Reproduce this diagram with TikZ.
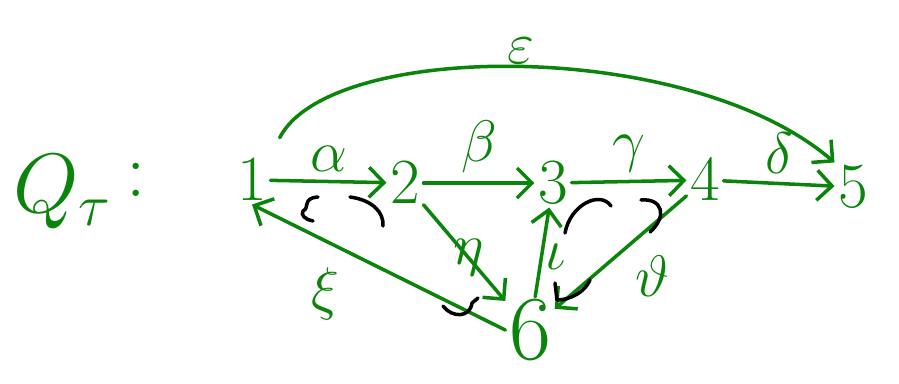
\documentclass[tikz,border=0pt]{standalone}
\usepackage{fix-cm}
\usepackage{xcolor}
\usepackage{tikz}
\usetikzlibrary{arrows.meta}
\definecolor{ink}{HTML}{0A840A}

\begin{document}
\begin{tikzpicture}[x=0.03cm, y=-0.03cm,
  vertex/.style={text=ink, font=\fontsize{55}{60}\selectfont, inner sep=3pt},
  arrowlabel/.style={text=ink, font=\fontsize{50}{56}\selectfont, inner sep=2pt},
  arrowline/.style={draw=ink, line width=3pt, line cap=round, -{Straight Barb[length=4.5mm,width=9mm,line width=3pt]}},
  relation/.style={draw=black, line width=3pt, line cap=round, line join=round},
]
\useasboundingbox (0,0) rectangle (899,383);
\node[text=ink, font=\fontsize{72}{78}\selectfont] (quiver) at (62,192) {$Q_\tau$};
\node[text=ink, font=\fontsize{66}{72}\selectfont] (colon) at (136,180) {$:$};

\node[vertex] (v1) at (252,180) {$1$};
\node[vertex] (v2) at (405,183) {$2$};
\node[vertex] (v3) at (553,183) {$3$};
\node[vertex] (v4) at (705,180) {$4$};
\node[vertex] (v5) at (853,187) {$5$};
\node[vertex, font=\fontsize{78}{84}\selectfont] (v6) at (530,330) {$6$};

\draw[arrowline] (v1) -- node[arrowlabel, above=5pt] {$\alpha$} (v2);
\draw[arrowline] (v2) -- node[arrowlabel, above=5pt] {$\beta$} (v3);
\draw[arrowline] (v3) -- node[arrowlabel, above=5pt] {$\gamma$} (v4);
\draw[arrowline] (v4) -- node[arrowlabel, above=5pt] {$\delta$} (v5);
\draw[arrowline, shorten <=6mm] (v1.north east) .. controls (330,40) and (690,38) .. node[arrowlabel, above=1pt] {$\varepsilon$} (v5.north west);
\draw[arrowline] (v2) -- node[arrowlabel, pos=0.55, anchor=center] {$\eta$} (v6);
\draw[arrowline] (v6) -- node[arrowlabel, right, pos=0.45] {$\iota$} (v3);
\draw[arrowline] (v4) -- node[arrowlabel, below right=4pt, pos=0.45] {$\vartheta$} (v6);
\draw[arrowline] (v6.west) -- node[arrowlabel, below left=8pt, pos=0.6] {$\xi$} (v1.south);

% relations
\draw[relation] (318,197) .. controls (302,198) and (310,208) .. (303,211) .. controls (300,215) and (306,220) .. (313,221);
\draw[relation] (350,197) .. controls (372,200) and (384,212) .. (383,226);
\draw[relation] (443,306) .. controls (452,318) and (470,318) .. (472,303) -- (478,298);
\draw[relation] (565,233) .. controls (570,205) and (600,190) .. (611,206);
\draw[relation] (641,200) .. controls (662,198) and (668,216) .. (650,232);
\draw[relation] (555,283) -- (557,300) .. controls (570,300) and (585,292) .. (590,280);
\end{tikzpicture}
\end{document}
